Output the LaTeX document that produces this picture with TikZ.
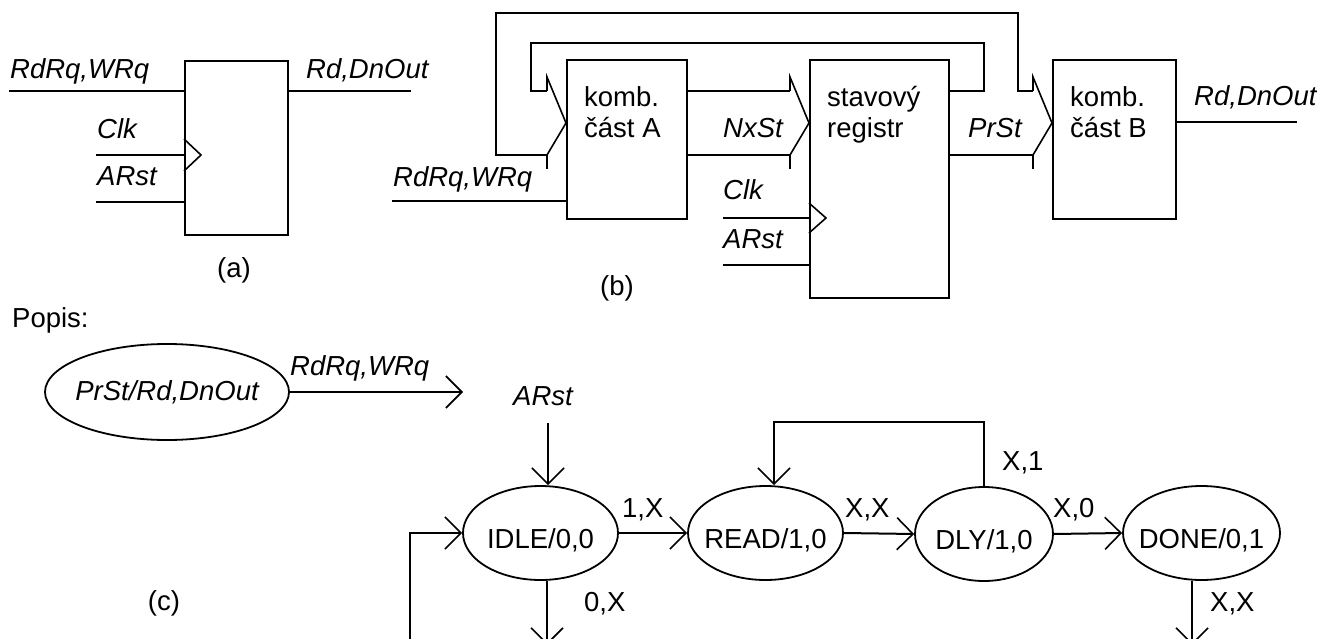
\documentclass[tikz,border=0pt]{standalone}
\usepackage{fontspec}
\setmainfont{Liberation Sans}
\usetikzlibrary{arrows.meta,shapes.geometric,calc}
\begin{document}
\begin{tikzpicture}[x=1pt,y=-1pt,
  every node/.style={inner sep=0pt, font=\fontsize{27.5}{31}\selectfont},
  sig/.style={font=\fontsize{27.5}{31}\selectfont\itshape},
  txt/.style={anchor=base west},
  box/.style={draw, line width=2pt, rectangle},
  st/.style={draw, ellipse, line width=1.8pt, minimum height=94pt, inner xsep=-20pt, inner ysep=0pt},
  stt/.style={st, text height=30pt, text depth=0pt},
  wire/.style={line width=2pt},
  thinw/.style={line width=1.6pt, line join=miter},
  arr/.style={line width=2pt, -{Straight Barb[length=16pt,width=32pt,line width=1.6pt]}}]
\useasboundingbox (0,0) rectangle (1317,639);
\clip (0,0) rectangle (1317,639);
\fill[white] (0,0) rectangle (1317,639);

% ---------- (a) ----------
\node[box, minimum width=103pt, minimum height=174pt] (boxa) at (236.5,148) {};
\node[sig,txt] (ain) at (10,79) {RdRq,WRq};
\node[sig,txt] (aout) at (306,79) {Rd,DnOut};
\node[sig,txt] (aclk) at (97,139) {Clk};
\node[sig,txt] (arst) at (97,186) {ARst};
\node (alab) at (234,270) {(a)};
\coordinate (ainS) at (9,91);
\coordinate (aoutE) at (411,91);
\coordinate (aclkS) at (96,155);
\coordinate (arstS) at (96,202);
\draw[wire] (ainS) -- (ainS -| boxa.west);
\draw[wire] (aoutE -| boxa.east) -- (aoutE);
\draw[wire] (aclkS) -- (aclkS -| boxa.west);
\draw[wire] (arstS) -- (arstS -| boxa.west);
\draw[thinw] ($(aclkS -| boxa.west)+(0,-16)$) -- ++(17,16) -- ++(-17,16);

% ---------- (b) ----------
\node[box, minimum width=120pt, minimum height=159pt] (boxA) at (627,139.5) {};
\node[box, minimum width=139pt, minimum height=238pt] (reg) at (879.5,179) {};
\node[box, minimum width=123pt, minimum height=159pt] (boxB) at (1114.5,139.5) {};
\node[txt] (kA1) at (584,107) {komb.};
\node[txt] (kA2) at (584,138) {část A};
\node[txt] (r1) at (827,107) {stavový};
\node[txt] (r2) at (827,138) {registr};
\node[txt] (kB1) at (1070,107) {komb.};
\node[txt] (kB2) at (1070,138) {část B};
\node[sig,txt] (bin) at (393,187) {RdRq,WRq};
\node[sig,txt] (nxst) at (723,138) {NxSt};
\node[sig,txt] (bclk) at (723,200) {Clk};
\node[sig,txt] (brst) at (723,248) {ARst};
\node[sig,txt] (prst) at (968,138) {PrSt};
\node[sig,txt] (bout) at (1194,106) {Rd,DnOut};
\node (blab) at (617,288) {(b)};

\coordinate (tA) at (boxA.west |- 0,123);
\coordinate (tR) at (reg.west |- 0,123);
\coordinate (tB) at (boxB.west |- 0,123);
\coordinate (binS) at (392,201);
\coordinate (bclkS) at (723,218);
\coordinate (brstS) at (723,265);
\coordinate (boutE) at (1297,122);
\coordinate (fo1) at (496,13);
\coordinate (fo2) at (1018,13);
\coordinate (fi1) at (531,43);
\coordinate (fi2) at (984,43);

% bus heads
\foreach \t in {tA,tR,tB}{
  \draw[thinw] ($(\t)+(-19,-32)$) -- ++(0,-14) -- (\t) -- ($(\t)+(-19,32)$) -- ++(0,14);
}
% outer feedback
\draw[wire] ($(tA)+(-19,32)$) -| (fo1) -- (fo2) |- ($(tB)+(-19,-32)$);
% inner feedback
\draw[wire] (reg.east |- 0,91) -- (fi2 |- 0,91) -- (fi2) -- (fi1) |- ($(tA)+(-19,-32)$);
% NxSt bus
\draw[wire] (boxA.east |- 0,91) -- ($(tR)+(-19,-32)$);
\draw[wire] (boxA.east |- 0,155) -- ($(tR)+(-19,32)$);
% PrSt bus lower line
\draw[wire] (reg.east |- 0,155) -- ($(tB)+(-19,32)$);
% inputs / outputs
\draw[wire] (binS) -- (binS -| boxA.west);
\draw[wire] (boutE -| boxB.east) -- (boutE);
\draw[wire] (bclkS) -- (bclkS -| reg.west);
\draw[wire] (brstS) -- (brstS -| reg.west);
\draw[thinw] ($(bclkS -| reg.west)+(0,-15)$) -- ++(17,15) -- ++(-17,15);

% ---------- (c) ----------
\node[txt] (popis) at (12,327) {Popis:};
\node[st, sig, minimum width=244pt, minimum height=96pt] (legend) at (167,392) {PrSt/Rd,DnOut};
\node[sig,txt] (legl) at (290,375) {RdRq,WRq};
\coordinate (legE) at (463,392);
\draw[arr] (legend.east) -- (legE);
\node (clab) at (164,603) {(c)};

\node[stt, minimum width=155pt] (idle) at (540.5,533) {IDLE/0,0};
\node[stt, minimum width=155pt] (read) at (765.5,533) {READ/1,0};
\node[stt, minimum width=138pt] (dly) at (984,534) {DLY/1,0};
\node[stt, minimum width=157pt] (done) at (1201.5,533) {DONE/0,1};

\node[sig, anchor=base] (carst) at (543,405) {ARst};
\coordinate (arstS2) at (548,423);
\draw[arr] (arstS2) -- (arstS2 |- idle.north);

\draw[arr] (idle.east) -- (read.west);
\draw[arr] (read.east) -- (dly.west);
\draw[arr] (dly.east) -- (done.west);

\coordinate (rloop) at (774,422);
\draw[arr] (dly.north) |- (rloop) -- (rloop |- read.north);

\coordinate (idown) at (547,645);
\draw[arr] (idown |- idle.south) -- (idown);
\coordinate (ddown) at (1192,645);
\draw[arr] (ddown |- done.south) -- (ddown);
\coordinate (lloop) at (410,660);
\draw[arr] (lloop) |- (idle.west);

\node[txt] (l1x) at (622,517) {1,X};
\node[txt] (lxx) at (845,517) {X,X};
\node[txt] (lx1) at (1002,470) {X,1};
\node[txt] (lx0) at (1053,517) {X,0};
\node[txt] (l0x) at (584,611) {0,X};
\node[txt] (lxx2) at (1210,611) {X,X};
\end{tikzpicture}
\end{document}
